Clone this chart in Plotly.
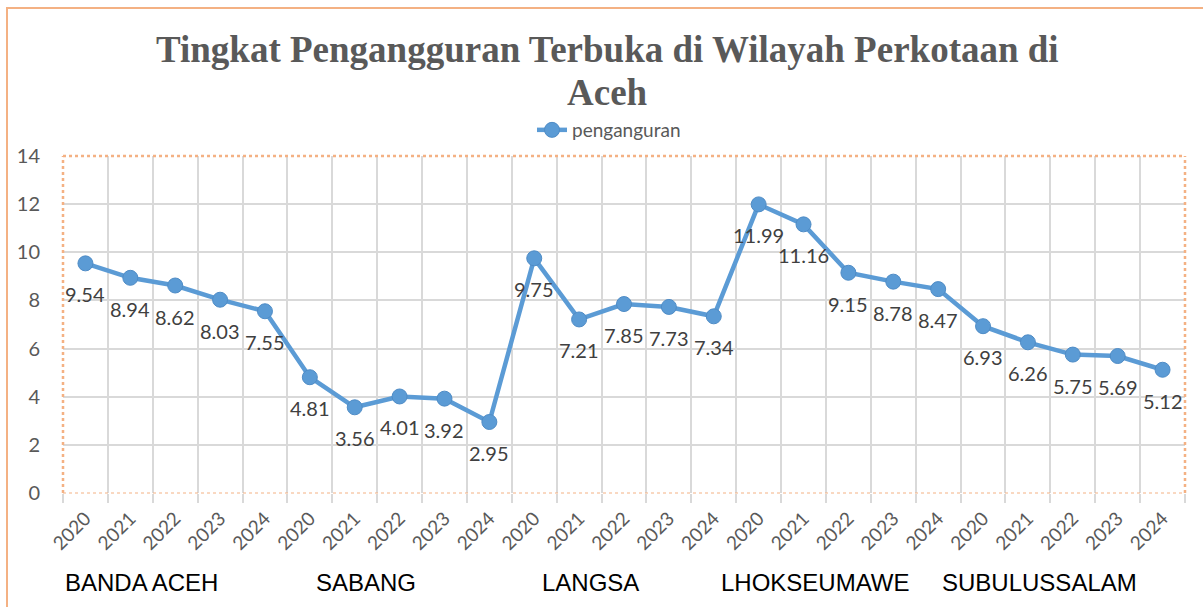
import plotly.graph_objects as go

regions = ["BANDA ACEH", "SABANG", "LANGSA", "LHOKSEUMAWE", "SUBULUSSALAM"]
years = ["2020", "2021", "2022", "2023", "2024"]
values = [
    9.54, 8.94, 8.62, 8.03, 7.55,
    4.81, 3.56, 4.01, 3.92, 2.95,
    9.75, 7.21, 7.85, 7.73, 7.34,
    11.99, 11.16, 9.15, 8.78, 8.47,
    6.93, 6.26, 5.75, 5.69, 5.12,
]
series_name = "penganguran"
title_lines = ["Tingkat Pengangguran Terbuka di Wilayah Perkotaan di", "Aceh"]
y_ticks = [0, 2, 4, 6, 8, 10, 12, 14]

n = len(values)
xs = list(range(n))
year_labels = [years[i % len(years)] for i in range(n)]

W, H = 1203, 607
L, R, T, B = 63, 18, 156, 114
pw, ph = W - L - R, H - T - B

ORANGE = "#f4b183"
BLUE = "#5b9bd5"
GRID = "#d9d9d9"
TXT = "#595959"
FONT = "Lato, 'Open Sans', sans-serif"
SERIF = "'Liberation Serif', 'Times New Roman', serif"


def px2paper_x(px):
    return (px - L) / pw


def px2paper_y(py):
    return (H - B - py) / ph


fig = go.Figure()
fig.add_trace(go.Scatter(
    x=xs, y=values, mode="lines+markers", name=series_name,
    line=dict(color=BLUE, width=4.5),
    marker=dict(size=15, color=BLUE, line=dict(color="#4f8cc6", width=1)),
))

annotations = []
for x, v in zip(xs, values):
    annotations.append(dict(
        x=x, y=v, xref="x", yref="y", text=f"{v:.2f}", showarrow=False,
        yshift=-31, font=dict(family=FONT, size=20, color="#404040"),
    ))

group_size = len(years)
for g, name in enumerate(regions):
    center = g * group_size + (group_size - 1) / 2 - 0.75
    annotations.append(dict(
        x=center, y=px2paper_y(582), xref="x", yref="paper", text=name,
        showarrow=False, yanchor="middle",
        font=dict(family="'Liberation Sans', Arial, sans-serif", size=24, color="#000000"),
    ))

# chart title (two lines)
for line_text, py in zip(title_lines, [49, 92]):
    annotations.append(dict(
        x=px2paper_x(607), y=px2paper_y(py), xref="paper", yref="paper",
        text=f"<b>{line_text}</b>", showarrow=False, xanchor="center", yanchor="middle",
        font=dict(family=SERIF, size=37, color=TXT),
    ))

shapes = [
    dict(type="rect", xref="paper", yref="paper",
         x0=px2paper_x(7), x1=px2paper_x(1240), y0=px2paper_y(8), y1=px2paper_y(650),
         line=dict(color=ORANGE, width=2), layer="below"),
    dict(type="line", xref="paper", yref="paper", x0=0, x1=1, y0=1, y1=1,
         line=dict(color=ORANGE, width=2.5, dash="dot"), layer="above"),
    dict(type="line", xref="paper", yref="paper", x0=0, x1=0, y0=0, y1=1,
         line=dict(color=ORANGE, width=2.5, dash="dot"), layer="above"),
    dict(type="line", xref="paper", yref="paper", x0=1, x1=1, y0=0, y1=1,
         line=dict(color=ORANGE, width=2.5, dash="dot"), layer="above"),
    dict(type="line", xref="paper", yref="paper", x0=0, x1=1, y0=0, y1=0,
         line=dict(color=ORANGE, width=1, dash="dot"), layer="above"),
]

fig.update_layout(
    width=W, height=H,
    margin=dict(l=L, r=R, t=T, b=B, autoexpand=False),
    paper_bgcolor="white", plot_bgcolor="white",
    showlegend=True,
    legend=dict(
        orientation="h", x=px2paper_x(609), xanchor="center", yref="paper",
        y=px2paper_y(130), yanchor="middle",
        font=dict(family=FONT, size=19, color=TXT),
    ),
    xaxis=dict(
        range=[-0.5, n - 0.5], tickmode="array", tickvals=xs, ticktext=year_labels,
        tickangle=-45, showgrid=False, zeroline=False, showline=False, automargin=False,
        ticks="outside", ticklen=6, tickcolor="rgba(0,0,0,0)",
        tickfont=dict(family=FONT, size=19, color=TXT),
        minor=dict(tickmode="array", tickvals=[i - 0.5 for i in range(n + 1)],
                   showgrid=True, gridcolor=GRID, gridwidth=2,
                   ticks="outside", ticklen=9, tickcolor=GRID, tickwidth=2),
    ),
    yaxis=dict(
        range=[0, 14], tickmode="array", tickvals=y_ticks, automargin=False,
        showgrid=True, gridcolor=GRID, gridwidth=2, zeroline=False, showline=False,
        ticks="outside", ticklen=18, tickcolor="rgba(0,0,0,0)",
        tickfont=dict(family=FONT, size=20, color=TXT),
    ),
    annotations=annotations,
    shapes=shapes,
)

fig.write_html("out.html")
